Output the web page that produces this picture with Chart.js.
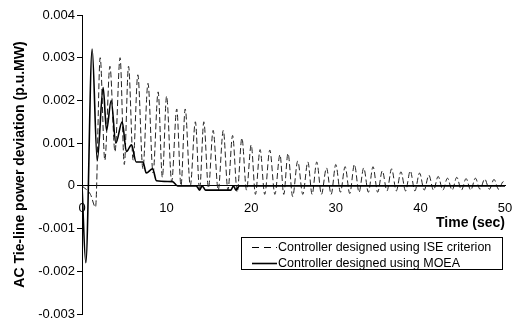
<!DOCTYPE html>
<html>
<head>
    <title>AC tie-line power deviation</title>
    <script src="https://cdn.jsdelivr.net/npm/chart.js"></script>
    <style>
        body { margin: 0; background: #fff; }
    </style>
</head>
<body>
    <canvas id="chart" width="514" height="322"></canvas>

    <script>
        // Controller designed using MOEA (solid line)
        const moeaTime = [0, 0.45, 1.2, 1.8, 2.5, 2.9, 3.45, 4.0, 4.75, 5.25, 5.85, 6.4, 7.2, 7.6, 8.35, 8.8, 10.7, 11.3, 13.5, 13.9, 14.2, 14.6, 17.6, 17.9, 18.2, 18.6, 50];
        const moeaValue = [0, -0.0018, 0.0032, 0.0006, 0.0023, 0.0013, 0.002, 0.001, 0.0015, 0.0008, 0.00096, 0.00056, 0.00056, 0.0003, 0.0004, 0.00012, 0.0001, 0, 0, -0.0001, 0, -0.0001, -0.0001, 0, -0.0001, 0, 0];

        // Controller designed using ISE criterion (dashed line)
        const iseTime = [0, 1.0, 1.6, 2.15, 2.7, 3.3, 3.9, 4.5, 5.0, 5.5, 6.05, 6.6, 7.2, 7.8, 8.4, 9.0, 9.5, 10.0, 10.6, 11.2, 11.7, 12.2, 12.8, 13.4, 13.9, 14.4, 14.95, 15.5, 16.1, 16.7, 17.25, 17.8, 18.35, 18.9, 19.45, 20.0, 20.5, 21.05, 21.6, 22.2, 22.8, 23.4, 23.85, 24.35, 24.9, 25.5, 26.1, 26.7, 27.2, 27.75, 28.3, 28.9, 29.45, 30.0, 30.55, 31.1, 31.65, 32.2, 32.75, 33.3, 33.85, 34.4, 34.95, 35.5, 36.05, 36.6, 37.15, 37.7, 38.25, 38.8, 39.35, 39.9, 40.45, 41.0, 41.55, 42.1, 42.65, 43.2, 43.75, 44.3, 44.85, 45.4, 45.95, 46.5, 47.05, 47.6, 48.15, 48.7, 49.25, 49.8, 50];
        const iseValue = [0, -0.0002, -0.0005, 0.003, 0.0006, 0.0028, 0.0008, 0.003, 0.0005, 0.0028, 0.0006, 0.0026, 0.0004, 0.0024, 0.0003, 0.0022, 0.0002, 0.0021, 0.0001, 0.0018, 0, 0.0018, 0, 0.0015, -0.0001, 0.0015, -0.00005, 0.0013, -0.0001, 0.0013, -0.0001, 0.00118, -0.00015, 0.00112, -0.0001, 0.00096, -0.0002, 0.00085, -0.0002, 0.00084, -0.0002, 0.00073, -0.0002, 0.00076, -0.00025, 0.00058, -0.0002, 0.00056, -0.0002, 0.00056, -0.0002, 0.00042, -0.0002, 0.0005, -0.00015, 0.00045, -0.00018, 0.0005, -0.00015, 0.00042, -0.00015, 0.00045, -0.00015, 0.00035, -0.00012, 0.0004, -0.00012, 0.00033, -0.00012, 0.00035, -0.00012, 0.0003, -0.0001, 0.00025, -0.0001, 0.00022, -0.0001, 0.00018, -0.0001, 0.0002, -0.0001, 0.00017, -0.0001, 0.00018, -0.00008, 0.00016, -0.00008, 0.00015, -0.00008, 0.0001, 0.00005];

        const legendLabels = ['Controller designed using ISE criterion', 'Controller designed using MOEA'];
        const xTitle = 'Time (sec)';
        const yTitle = 'AC Tie-line power deviation (p.u.MW)';

        const font = "Arial, 'Liberation Sans', sans-serif";

        function toPoints(xs, ys) {
            return xs.map((x, i) => ({ x: x, y: ys[i] }));
        }

        // titre de l'axe X et legende dessines a la main
        const extras = {
            id: 'extras',
            afterDraw(chart) {
                const ctx = chart.ctx;
                const area = chart.chartArea;
                ctx.save();
                ctx.fillStyle = '#000';
                ctx.textBaseline = 'middle';
                ctx.textAlign = 'right';
                ctx.font = 'bold 14px ' + font;
                ctx.fillText(xTitle, area.right, 223);

                ctx.textAlign = 'left';
                ctx.strokeStyle = '#000';
                ctx.lineWidth = 1;
                ctx.strokeRect(241.5, 237.5, 261, 32);
                ctx.font = '12.5px ' + font;
                const rows = [247, 263];
                rows.forEach((y, i) => {
                    ctx.beginPath();
                    ctx.setLineDash(i === 0 ? [7, 5] : []);
                    ctx.lineWidth = i === 0 ? 1 : 1.6;
                    ctx.moveTo(252, y + 0.5);
                    ctx.lineTo(277, y + 0.5);
                    ctx.stroke();
                    ctx.fillText(legendLabels[i], 278, y + 1);
                });
                ctx.restore();
            }
        };

        const ctx = document.getElementById('chart').getContext('2d');
        const chart = new Chart(ctx, {
            type: 'line',
            data: {
                datasets: [
                    {
                        label: legendLabels[1],
                        data: toPoints(moeaTime, moeaValue),
                        borderColor: '#000',
                        borderWidth: 1.6,
                        pointRadius: 0,
                        cubicInterpolationMode: 'monotone',
                        fill: false
                    },
                    {
                        label: legendLabels[0],
                        data: toPoints(iseTime, iseValue),
                        borderColor: '#222',
                        borderWidth: 1,
                        borderDash: [6, 3],
                        pointRadius: 0,
                        cubicInterpolationMode: 'monotone',
                        fill: false
                    }
                ]
            },
            options: {
                responsive: false,
                animation: false,
                layout: { padding: { top: 15, right: 9, bottom: 8, left: 0 } },
                plugins: {
                    legend: { display: false },
                    tooltip: { enabled: false }
                },
                scales: {
                    x: {
                        type: 'linear',
                        position: { y: 0 },
                        min: 0,
                        max: 50,
                        ticks: {
                            stepSize: 10,
                            color: '#000',
                            padding: 15,
                            font: { family: font, size: 13 }
                        },
                        grid: { display: false, drawTicks: false },
                        border: { color: '#000', width: 1 },
                        afterFit: scale => { scale.paddingLeft = 0; scale.paddingRight = 0; }
                    },
                    y: {
                        min: -0.003,
                        max: 0.004,
                        ticks: {
                            stepSize: 0.001,
                            color: '#000',
                            padding: 2,
                            font: { family: font, size: 13 },
                            callback: v => Math.abs(v) < 1e-9 ? '0' : v.toFixed(3)
                        },
                        grid: { drawOnChartArea: false, tickLength: 5, color: '#000' },
                        border: { color: '#000', width: 1 },
                        title: {
                            display: true,
                            text: yTitle,
                            color: '#000',
                            padding: { top: 12, bottom: 0 },
                            font: { family: font, size: 14, weight: 'bold' }
                        },
                        afterFit: scale => {
                            scale.width = 82;
                            scale.paddingTop = 0;
                            scale.paddingBottom = 0;
                        }
                    }
                }
            },
            plugins: [extras]
        });
    </script>
</body>
</html>
